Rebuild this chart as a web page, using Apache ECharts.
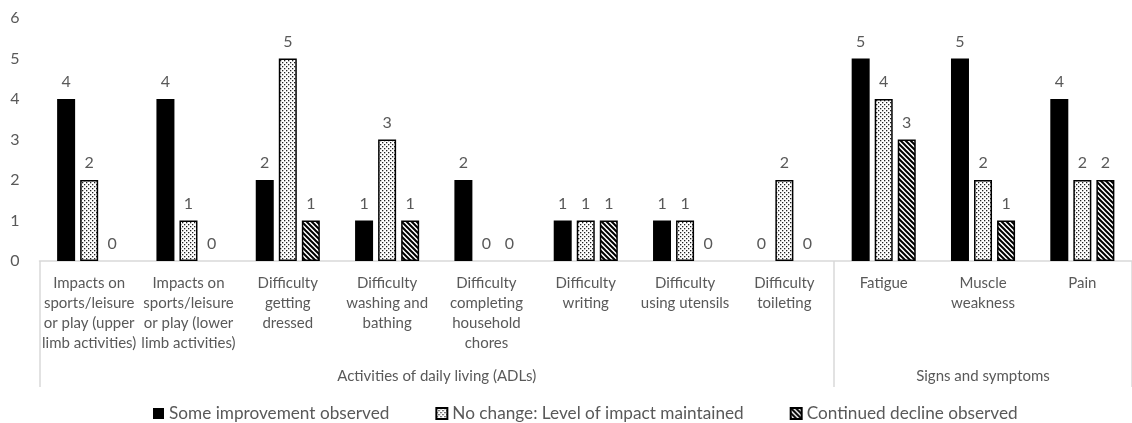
<!DOCTYPE html>
<html><head><meta charset="utf-8">
<script src="https://cdn.jsdelivr.net/npm/echarts@6/dist/echarts.min.js"></script>
<style>html,body{margin:0;padding:0;background:#fff}#c{width:1132px;height:423px}</style>
</head><body><div id="c"></div>
<script>
const categories = [
  'Impacts on\nsports/leisure\nor play (upper\nlimb activities)',
  'Impacts on\nsports/leisure\nor play (lower\nlimb activities)',
  'Difficulty\ngetting\ndressed',
  'Difficulty\nwashing and\nbathing',
  'Difficulty\ncompleting\nhousehold\nchores',
  'Difficulty\nwriting',
  'Difficulty\nusing utensils',
  'Difficulty\ntoileting',
  'Fatigue',
  'Muscle\nweakness',
  'Pain'
];
const groupNames = ['Activities of daily living (ADLs)', 'Signs and symptoms'];
const groupBounds = [0, 8, 11];
const seriesNames = ['Some improvement observed', 'No change: Level of impact maintained', 'Continued decline observed'];
const improvement = [4, 4, 2, 1, 2, 1, 1, 0, 5, 5, 4];
const noChange    = [2, 1, 5, 3, 0, 1, 1, 2, 4, 2, 2];
const decline     = [0, 0, 1, 1, 0, 1, 0, 0, 3, 1, 2];
const yTicks = [0, 1, 2, 3, 4, 5, 6];

function dotPattern() {
  const c = document.createElement('canvas'); c.width = 4; c.height = 4;
  const g = c.getContext('2d');
  g.fillStyle = '#fff'; g.fillRect(0, 0, 4, 4);
  g.fillStyle = '#222'; g.fillRect(0, 0, 1.3, 1.3); g.fillRect(2, 2, 1.3, 1.3);
  return c;
}
function hatchPattern() {
  const s = 5;
  const c = document.createElement('canvas'); c.width = s; c.height = s;
  const g = c.getContext('2d');
  g.fillStyle = '#fff'; g.fillRect(0, 0, s, s);
  g.strokeStyle = '#000'; g.lineWidth = 2;
  g.beginPath();
  g.moveTo(-1, -1); g.lineTo(s + 1, s + 1);
  g.moveTo(-1, s - 1); g.lineTo(1, s + 1);
  g.moveTo(s - 1, -1); g.lineTo(s + 1, 1);
  g.stroke();
  return c;
}
const FONT = 'Lato';
const GREY = '#595959';
const fills = ['#000', { image: dotPattern(), repeat: 'repeat' }, { image: hatchPattern(), repeat: 'repeat' }];
const values = [improvement, noChange, decline];

const chart = echarts.init(document.getElementById('c'), null, { renderer: 'canvas' });
chart.setOption({
  animation: false,
  textStyle: { fontFamily: FONT },
  grid: { left: 39.5, top: 18, width: 1100, height: 243, containLabel: false },
  legend: {
    left: 148, top: 400,
    itemWidth: 11, itemHeight: 11, itemGap: 46,
    textStyle: { fontFamily: FONT, fontSize: 17.2, color: GREY },
    icon: 'rect',
    data: seriesNames
  },
  xAxis: [{
    type: 'category', data: categories, position: 'bottom',
    axisLine: { lineStyle: { color: '#d9d9d9', width: 1.5 } },
    axisTick: { show: false },
    axisLabel: { interval: 0, color: GREY, fontFamily: FONT, fontSize: 15, lineHeight: 20, margin: 12 }
  }, {
    type: 'value', position: 'bottom', min: 0, max: 11,
    axisLine: { show: false }, splitLine: { show: false },
    axisTick: { show: true, customValues: groupBounds, length: 126, lineStyle: { color: '#d9d9d9', width: 1.5 } },
    axisLabel: {
      customValues: [(groupBounds[0] + groupBounds[1]) / 2, (groupBounds[1] + groupBounds[2]) / 2],
      formatter: v => v < groupBounds[1] ? groupNames[0] : groupNames[1],
      color: GREY, fontFamily: FONT, fontSize: 15, margin: 108
    }
  }],
  yAxis: {
    type: 'value', min: yTicks[0], max: yTicks[yTicks.length - 1], interval: 1,
    axisLine: { show: false }, axisTick: { show: false }, splitLine: { show: false },
    axisLabel: { color: GREY, fontFamily: FONT, fontSize: 16, margin: 20 }
  },
  series: seriesNames.map((n, i) => ({
    name: n, type: 'bar', barWidth: 18, barGap: '28%',
    data: values[i].map(v => v === 0 ? { value: v, itemStyle: { borderWidth: 0 } } : v),
    itemStyle: { color: fills[i], borderColor: '#000', borderWidth: i === 0 ? 0 : 1.5 },
    label: { show: true, position: 'top', distance: 9, color: GREY, fontFamily: FONT, fontSize: 16 }
  }))
});
</script></body></html>
